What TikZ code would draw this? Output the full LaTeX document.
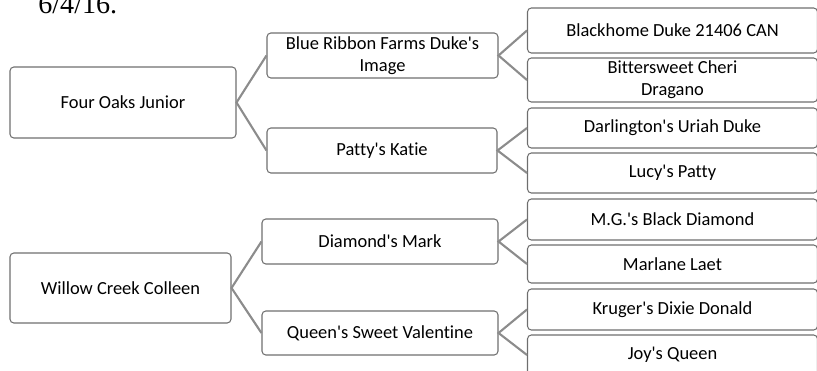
\documentclass[tikz,border=0pt]{standalone}
\usepackage{fontspec}
\defaultfontfeatures[\rmfamily]{}
\setmainfont{Carlito}[Ligatures={NoCommon}]
\newfontfamily\datefont{Liberation Serif}
\definecolor{boxline}{HTML}{6E6E6E}
\definecolor{linkline}{HTML}{8C8C8C}

\begin{document}
\begin{tikzpicture}[
        box/.style={draw=boxline, line width=0.6pt, rounded corners=2.2pt,
            inner sep=0pt, align=center, font=\fontsize{10.5}{12.5}\selectfont},
        link/.style={draw=linkline, line width=1.2pt}]
        \useasboundingbox (0,0) rectangle (16.34,7.42);
        \node at (0.76,7.14) [anchor=base west, inner sep=0pt, font=\datefont\fontsize{16}{18}\selectfont] {6/4/16.};
        % first generation
        \node (FO) at (2.46,5.37) [box, minimum width=4.52cm, minimum height=1.42cm] {Four Oaks Junior};
        \node (WC) at (2.41,1.66) [box, minimum width=4.42cm, minimum height=1.40cm] {Willow Creek Colleen};
        % second generation
        \node (BR) at (7.65,6.31) [box, minimum width=4.62cm, minimum height=0.9cm] {Blue Ribbon Farms Duke's\\Image};
        \node (PK) at (7.64,4.41) [box, minimum width=4.60cm, minimum height=0.9cm] {Patty's Katie};
        \node (DM) at (7.60,2.59) [box, minimum width=4.72cm, minimum height=0.9cm] {Diamond's Mark};
        \node (QV) at (7.60,0.76) [box, minimum width=4.72cm, minimum height=0.88cm] {Queen's Sweet Valentine};
        % third generation
        \node (BD) at (13.45,6.81) [box, minimum width=5.8cm, minimum height=0.9cm] {Blackhome Duke 21406 CAN};
        \node (BC) at (13.45,5.82) [box, minimum width=5.8cm, minimum height=0.88cm] {Bittersweet Cheri\\Dragano};
        \node (DU) at (13.45,4.86) [box, minimum width=5.8cm, minimum height=0.8cm] {Darlington's Uriah Duke};
        \node (LP) at (13.45,3.96) [box, minimum width=5.8cm, minimum height=0.8cm] {Lucy's Patty};
        \node (MG) at (13.45,3.03) [box, minimum width=5.8cm, minimum height=0.82cm] {M.G.'s Black Diamond};
        \node (ML) at (13.45,2.14) [box, minimum width=5.8cm, minimum height=0.76cm] {Marlane Laet};
        \node (KD) at (13.45,1.23) [box, minimum width=5.8cm, minimum height=0.82cm] {Kruger's Dixie Donald};
        \node (JQ) at (13.45,0.32) [box, minimum width=5.8cm, minimum height=0.8cm] {Joy's Queen};
        % connectors
        \draw[link] (BR.west) -- (FO.east) -- (PK.west);
        \draw[link] (DM.west) -- (WC.east) -- (QV.west);
        \draw[link] (BD.west) -- (BR.east) -- (BC.west);
        \draw[link] (DU.west) -- (PK.east) -- (LP.west);
        \draw[link] (MG.west) -- (DM.east) -- (ML.west);
        \draw[link] (KD.west) -- (QV.east) -- (JQ.west);
    \end{tikzpicture}
\end{document}
